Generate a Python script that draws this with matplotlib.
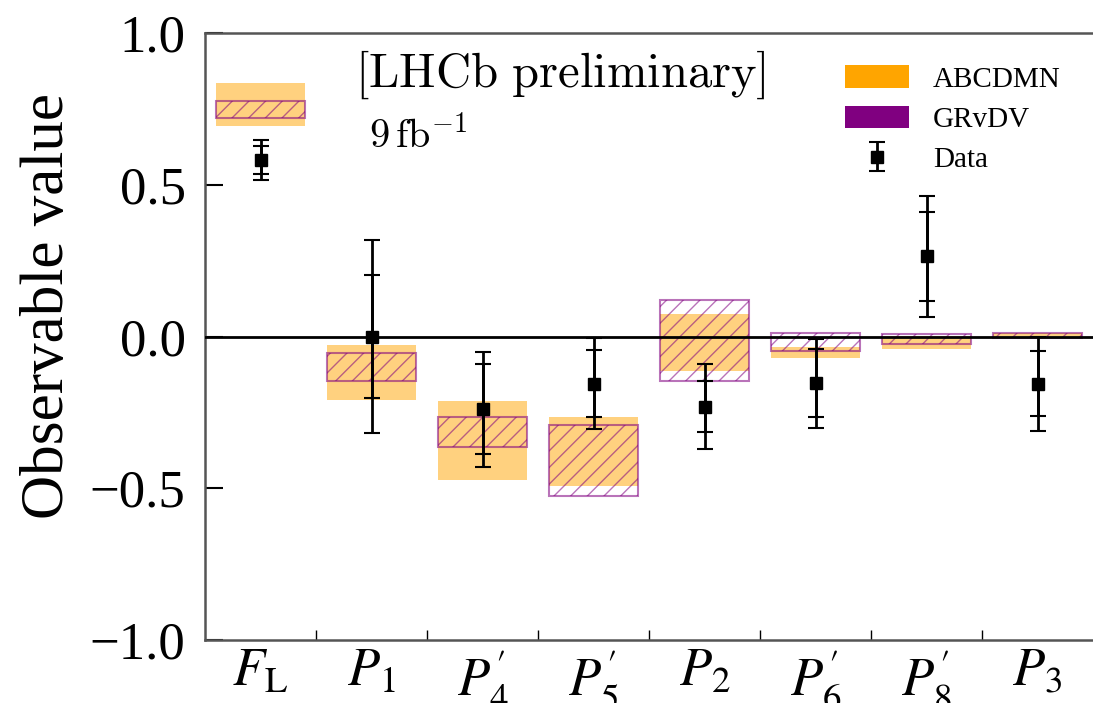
import numpy as np
import matplotlib.pyplot as plt
from matplotlib.patches import Patch

plt.rcParams['font.family'] = ['Liberation Serif', 'DejaVu Serif']
plt.rcParams['mathtext.fontset'] = 'stix'
plt.rcParams['hatch.linewidth'] = 1.0

observables = [r'$F_{\rm L}$', r'$P_1$', r"$P_4'$", r"$P_5'$",
               r'$P_2$', r"$P_6'$", r"$P_8'$", r'$P_3$']

# measured values with statistical and total uncertainties
data_val = [0.583, 0.000, -0.240, -0.156, -0.231, -0.154, 0.264, -0.156]
stat_err = [0.046, 0.202, 0.148, 0.110, 0.084, 0.112, 0.146, 0.107]
tot_err = [0.066, 0.318, 0.190, 0.150, 0.139, 0.147, 0.199, 0.154]

# theory predictions (lower / upper edge of band)
abcdmn_lo = [0.693, -0.208, -0.474, -0.494, -0.115, -0.071, -0.041, -0.003]
abcdmn_hi = [0.837, -0.027, -0.211, -0.264, 0.075, -0.035, 0.003, 0.010]
grvdv_lo = [0.720, -0.145, -0.365, -0.524, -0.148, -0.049, -0.024, -0.005]
grvdv_hi = [0.775, -0.054, -0.265, -0.293, 0.119, 0.011, 0.007, 0.012]

x = np.arange(len(observables))
box_w = 0.81

fig = plt.figure(figsize=(10.93, 7.03), dpi=100)
ax = fig.add_axes([0.1876, 0.0896, 0.8124, 0.8634])

ax.bar(x, np.subtract(abcdmn_hi, abcdmn_lo), bottom=abcdmn_lo, width=box_w,
       color='orange', alpha=0.5, linewidth=0, zorder=1)
ax.bar(x, np.subtract(grvdv_hi, grvdv_lo), bottom=grvdv_lo, width=box_w,
       facecolor='none', edgecolor=(0.5, 0.0, 0.5, 0.55), hatch='//',
       linewidth=1.5, zorder=2)

ax.axhline(0, color='black', lw=2, zorder=3)

data_h = ax.errorbar(x, data_val, yerr=tot_err, fmt='s', color='black',
                     ms=8.5, elinewidth=2, capsize=6, capthick=1.5, zorder=5)
ax.errorbar(x, data_val, yerr=stat_err, fmt='none', ecolor='black',
            elinewidth=2, capsize=6, capthick=1.5, zorder=5)

ax.set_xlim(-0.5, 7.5)
ax.set_ylim(-1.0, 1.0)
ax.set_yticks([-1.0, -0.5, 0.0, 0.5, 1.0])
ax.set_yticklabels(['\u22121.0', '\u22120.5', '0.0', '0.5', '1.0'])
ax.set_xticks(x[:-1] + 0.5)
ax.set_xticklabels([])
ax.set_xticks(x, minor=True)
ax.set_xticklabels(observables, minor=True)
ax.tick_params(axis='y', direction='in', length=13, width=1.5,
               labelsize=38, pad=14)
ax.tick_params(axis='x', which='major', direction='in', length=7, width=1)
ax.tick_params(axis='x', which='minor', length=0, labelsize=38, pad=6)

for side in ['left', 'bottom', 'top']:
    ax.spines[side].set_color('#555555')
    ax.spines[side].set_linewidth(1.8)
ax.spines['right'].set_visible(False)

ax.set_ylabel('Observable value', fontsize=44, labelpad=10)
ax.yaxis.label.set_y(0.55)

ax.text(0.40, 0.931, r'$\mathrm{[LHCb\ preliminary]}$', transform=ax.transAxes,
        ha='center', va='center', fontsize=35, math_fontfamily='cm')
ax.text(0.185, 0.83, r'$9\,\mathrm{fb}^{-1}$', transform=ax.transAxes,
        ha='left', va='center', fontsize=29, math_fontfamily='cm')

handles = [Patch(facecolor='orange'), Patch(facecolor='purple'), data_h]
ax.legend(handles, ['ABCDMN', 'GRvDV', 'Data'], loc='upper right',
          bbox_to_anchor=(0.993, 0.99), frameon=False, fontsize=21,
          handlelength=2.2, handleheight=0.8, handletextpad=0.8,
          labelspacing=0.45)

fig.savefig('out.png', dpi=100)
